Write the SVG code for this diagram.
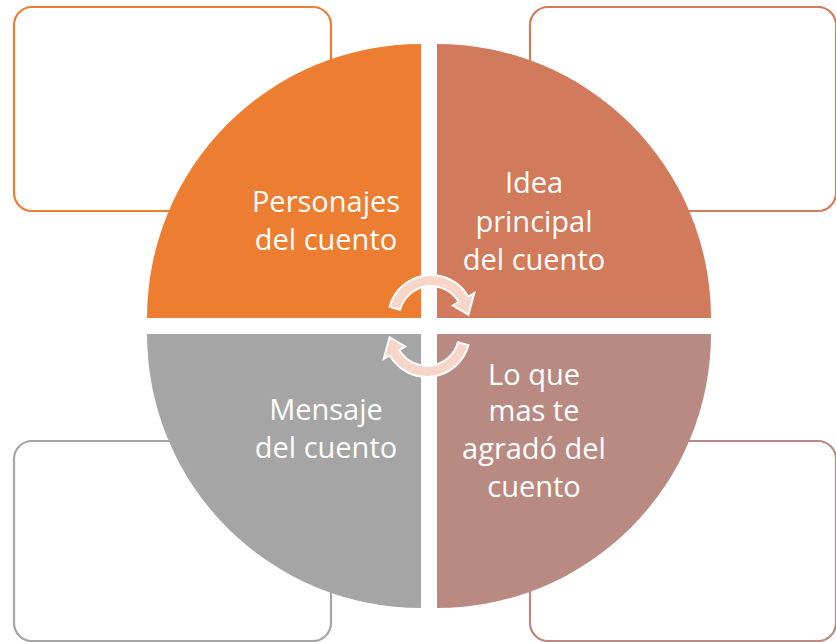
<svg xmlns="http://www.w3.org/2000/svg" width="836" height="642" viewBox="0 0 836 642">
<style>
.box{fill:#fff;stroke-width:2.2}
.lbl{font-family:"Open Sans","Liberation Sans",sans-serif;font-size:29px;fill:#fff;text-anchor:middle}
.arr{fill:#F7D5C8;stroke:#fff;stroke-width:2}
</style>
<rect width="836" height="642" fill="#fff"/>
<g id="box-tl"><rect class="box" x="14" y="7" width="317" height="204" rx="18" stroke="#ED7D31"/></g>
<g id="box-tr"><rect class="box" x="530" y="7" width="306" height="204" rx="18" stroke="#D27A5C"/></g>
<g id="box-bl"><rect class="box" x="14" y="441" width="317" height="200" rx="18" stroke="#A5A5A5"/></g>
<g id="box-br"><rect class="box" x="530" y="441" width="306" height="200" rx="18" stroke="#B98A82"/></g>
<g id="q-tl"><path d="M421,318 L147,318 A274,274 0 0 1 421,44 Z" fill="#ED7D31"/>
<text class="lbl" x="326" y="212">Personajes</text><text class="lbl" x="326" y="250">del cuento</text></g>
<g id="q-tr"><path d="M437,318 L437,44 A274,274 0 0 1 711,318 Z" fill="#D27A5C"/>
<text class="lbl" x="534" y="193">Idea</text><text class="lbl" x="534" y="232">principal</text><text class="lbl" x="534" y="270">del cuento</text></g>
<g id="q-bl"><path d="M421,334 L421,608 A274,274 0 0 1 147,334 Z" fill="#A5A5A5"/>
<text class="lbl" x="326" y="420">Mensaje</text><text class="lbl" x="326" y="458">del cuento</text></g>
<g id="q-br"><path d="M437,334 L711,334 A274,274 0 0 1 437,608 Z" fill="#B98A82"/>
<text class="lbl" x="534" y="385">Lo que</text><text class="lbl" x="534" y="421">mas te</text><text class="lbl" x="534" y="459">agradó del</text><text class="lbl" x="534" y="497">cuento</text></g>
<g id="connectors">
<path id="arr-top" class="arr" d="M389.5,306.9 A43,43 0 0 1 468.2,296.5 L474.3,293 L468.4,314.7 L452.7,305.5 L458.7,302 A32,32 0 0 0 400.1,309.7 Z"/>
<path class="arr" transform="rotate(180 429 326)" d="M389.5,306.9 A43,43 0 0 1 468.2,296.5 L474.3,293 L468.4,314.7 L452.7,305.5 L458.7,302 A32,32 0 0 0 400.1,309.7 Z"/>
</g>
</svg>
